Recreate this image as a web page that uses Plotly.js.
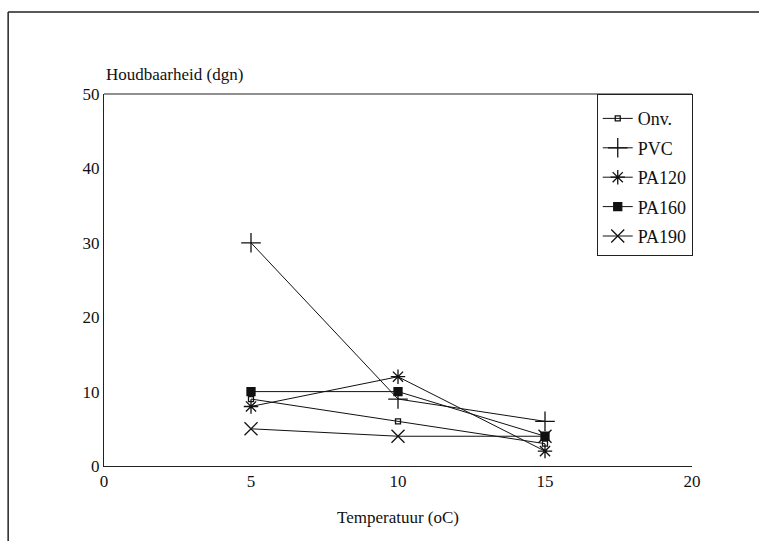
<!DOCTYPE html>
<html>
<head>
<meta charset="utf-8">
<script src="https://cdn.plot.ly/plotly-3.0.1.min.js"></script>
<style>html,body{margin:0;padding:0;background:#fff;}#chart{width:759px;height:541px;}</style>
</head>
<body>
<div id="chart"></div>
<script>
const temperatures = [5, 10, 15];
const seriesNames = ["Onv.", "PVC", "PA120", "PA160", "PA190"];
const onv   = [9, 6, 3];
const pvc   = [30, 9, 6];
const pa120 = [8, 12, 2];
const pa160 = [10, 10, 4];
const pa190 = [5, 4, 4];
const xTicks = [0, 5, 10, 15, 20];
const yTicks = [0, 10, 20, 30, 40, 50];

const values = [onv, pvc, pa120, pa160, pa190];
const symbols = ["square-open", "cross-thin-open", "asterisk-open", "square", "x-thin-open"];
const sizes = [5, 14, 12, 8, 13];

const traces = seriesNames.map((name, i) => ({
  x: temperatures,
  y: values[i],
  name: name,
  legendgroup: name,
  type: "scatter",
  mode: "lines+markers",
  line: {color: "#111", width: 1},
  marker: {symbol: symbols[i], size: sizes[i], color: "#111", line: {color: "#111", width: 1.3}}
}));

const fam = "Liberation Serif, Times New Roman, serif";
const titleFont = {family: fam, size: 17, color: "#111"};
const tickFont = {family: fam, size: 17, color: "#111"};

const layout = {
  width: 759, height: 541,
  margin: {l: 104, r: 67, t: 94, b: 75},
  paper_bgcolor: "#fff", plot_bgcolor: "#fff",
  font: tickFont,
  showlegend: true,
  legend: {
    x: 0.838, y: 1, xanchor: "left", yanchor: "top",
    bordercolor: "#222", borderwidth: 1, bgcolor: "#fff",
    font: {family: fam, size: 18, color: "#111"},
    title: {text: " ", font: {family: fam, size: 4}},
    tracegroupgap: 3, itemwidth: 30
  },
  xaxis: {
    range: [0, 20], tickvals: xTicks, ticktext: xTicks.map(String),
    showgrid: false, zeroline: false, showline: true, linecolor: "#222", linewidth: 1,
    ticks: "", fixedrange: true, tickfont: tickFont,
    title: {text: "Temperatuur (oC)", font: titleFont, standoff: 20}
  },
  yaxis: {
    range: [0, 50], tickvals: yTicks, ticktext: yTicks.map(String),
    showgrid: false, zeroline: false, showline: true, linecolor: "#222", linewidth: 1,
    ticks: "", fixedrange: true, tickfont: tickFont
  },
  annotations: [{
    text: "Houdbaarheid (dgn)", xref: "paper", yref: "paper", x: 0, y: 1,
    xanchor: "left", yanchor: "bottom", yshift: 8, showarrow: false, font: titleFont
  }],
  shapes: [
    {type: "line", xref: "paper", yref: "paper", x0: 0, x1: 1, y0: 1, y1: 1, line: {color: "#222", width: 1}},
    {type: "line", xref: "paper", yref: "paper", x0: -0.163, x1: 1.12, y0: 1.2204, y1: 1.2204, line: {color: "#222", width: 1.5}},
    {type: "line", xref: "paper", yref: "paper", x0: -0.163, x1: -0.163, y0: 1.2204, y1: -0.25, line: {color: "#222", width: 1.5}}
  ]
};

Plotly.newPlot("chart", traces, layout, {displayModeBar: false, staticPlot: true});
</script>
</body>
</html>
